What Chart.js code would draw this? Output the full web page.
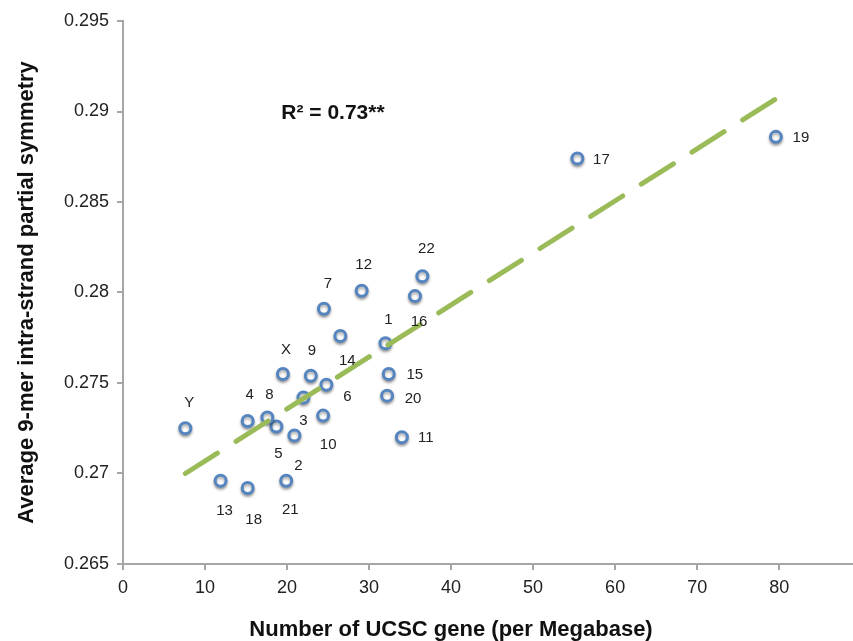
<!DOCTYPE html>
<html>
<head>
<meta charset="utf-8">
<script src="https://cdn.jsdelivr.net/npm/chart.js@4"></script>
<style>
	html, body { margin: 0; padding: 0; background: #fff; }
	#wrap { width: 853px; height: 641px; }
</style>
</head>
<body>
<div id="wrap"><canvas id="symmetry-chart"></canvas></div>
<script>
// chromosome labels and values
const chromosomes = ['1', '2', '3', '4', '5', '6', '7', '8', '9', '10', '11', '12',
	'13', '14', '15', '16', '17', '18', '19', '20', '21', '22', 'X', 'Y']
const geneDensity = [32.0, 20.9, 22.0, 15.2, 18.7, 24.8, 24.5, 17.6, 22.9, 24.4, 34.0, 29.1,
	11.9, 26.5, 32.4, 35.6, 55.4, 15.2, 79.6, 32.2, 19.9, 36.5, 19.5, 7.6]
const symmetry = [0.2772, 0.2721, 0.2742, 0.2729, 0.2726, 0.2749, 0.2791, 0.2731, 0.2754, 0.2732, 0.2720, 0.2801,
	0.2696, 0.2776, 0.2755, 0.2798, 0.2874, 0.2692, 0.2886, 0.2743, 0.2696, 0.2809, 0.2755, 0.2725]
// label offsets (px) from each marker
const labelDx = [3, 4, 0, 2, 2, 21, 4, 2, 1, 5, 24, 2, 4, 7, 26, 4, 24, 6, 25, 26, 4, 4, 3, 4]
const labelDy = [-23, 30, 23, -26, 27, 12, -25, -23, -25, 29, 1, -26, 30, 25, 1, 26, 1, 32, 1, 3, 29, -27, -24, -25]
// trend line end points
const trendX = [7.6, 79.6]
const trendY = [0.2700, 0.2907]
const xTicks = [0, 10, 20, 30, 40, 50, 60, 70, 80]
const yTicks = [0.265, 0.27, 0.275, 0.28, 0.285, 0.29, 0.295]
const rSquared = 'R² = 0.73**'
const xTitle = 'Number of UCSC gene (per Megabase)'

const font = "'Liberation Sans', Arial, sans-serif"

const pointLabels = {
	id: 'pointLabels',
	beforeDatasetDraw(chart, args) {
		if (args.index !== 1) return
		const ctx = chart.ctx
		ctx.save()
		ctx.shadowColor = 'rgba(0,0,0,0.35)'
		ctx.shadowBlur = 3
		ctx.shadowOffsetY = 2
	},
	afterDatasetDraw(chart, args) {
		if (args.index !== 1) return
		chart.ctx.restore()
	},
	afterDatasetsDraw(chart) {
		const ctx = chart.ctx
		const meta = chart.getDatasetMeta(1)
		ctx.save()
		ctx.font = '15px ' + font
		ctx.fillStyle = '#222'
		ctx.textAlign = 'center'
		ctx.textBaseline = 'middle'
		meta.data.forEach((pt, i) => {
			ctx.fillText(chromosomes[i], pt.x + labelDx[i], pt.y + labelDy[i])
		})
		const x = chart.scales.x.getPixelForValue(25.6)
		const y = chart.scales.y.getPixelForValue(0.2899)
		ctx.font = 'bold 21px ' + font
		ctx.fillStyle = '#111'
		ctx.fillText(rSquared, x, y)
		// x axis title sits left of the axis centre in the original
		ctx.font = 'bold 22px ' + font
		ctx.fillText(xTitle, 451, 630)
		ctx.restore()
	}
}

const scatterChart = (id) => {
	new Chart(id, {
		type: 'scatter',
		data: {
			datasets: [
				{
					type: 'line',
					label: 'Trend',
					data: trendX.map((x, i) => ({ x: x, y: trendY[i] })),
					borderColor: '#9BBB59',
					borderWidth: 5,
					borderDash: [38, 22],
					borderCapStyle: 'round',
					pointRadius: 0,
					fill: false,
					order: 0
				},
				{
					label: 'Chromosomes',
					data: geneDensity.map((x, i) => ({ x: x, y: symmetry[i] })),
					backgroundColor: '#fff',
					borderColor: '#5585C0',
					borderWidth: 3,
					pointRadius: 5.5,
					order: 1
				}
			]
		},
		options: {
			responsive: true,
			maintainAspectRatio: false,
			animation: false,
			layout: { autoPadding: false, padding: { top: 21, right: 0, left: 0, bottom: 0 } },
			plugins: {
				legend: { display: false },
				tooltip: { enabled: false }
			},
			scales: {
				x: {
					type: 'linear',
					min: 0,
					max: 89,
					afterBuildTicks: (scale) => { scale.ticks = xTicks.map(v => ({ value: v })) },
					afterFit: (scale) => { scale.height = 77; scale.paddingRight = 0; scale.paddingLeft = 0 },
					border: { color: '#a6a6a6', width: 2 },
					grid: { drawOnChartArea: false, tickLength: 6, color: '#a6a6a6', lineWidth: 2 },
					ticks: { color: '#222', font: { family: font, size: 18 }, padding: 7, maxRotation: 0 },
					title: { display: false }
				},
				y: {
					min: 0.265,
					max: 0.295,
					afterBuildTicks: (scale) => { scale.ticks = yTicks.map(v => ({ value: v })) },
					afterFit: (scale) => { scale.width = 123 },
					border: { color: '#a6a6a6', width: 2 },
					grid: { drawOnChartArea: false, tickLength: 6, color: '#a6a6a6', lineWidth: 2 },
					ticks: {
						color: '#222',
						font: { family: font, size: 18 },
						padding: 8,
						callback: (v) => String(+v.toFixed(3))
					},
					title: {
						display: true,
						text: 'Average 9-mer intra-strand partial symmetry',
						color: '#111',
						font: { family: font, size: 22, weight: 'bold' },
						padding: { top: 14, bottom: 0 }
					}
				}
			}
		},
		plugins: [pointLabels]
	})
}

scatterChart('symmetry-chart')
</script>
</body>
</html>
